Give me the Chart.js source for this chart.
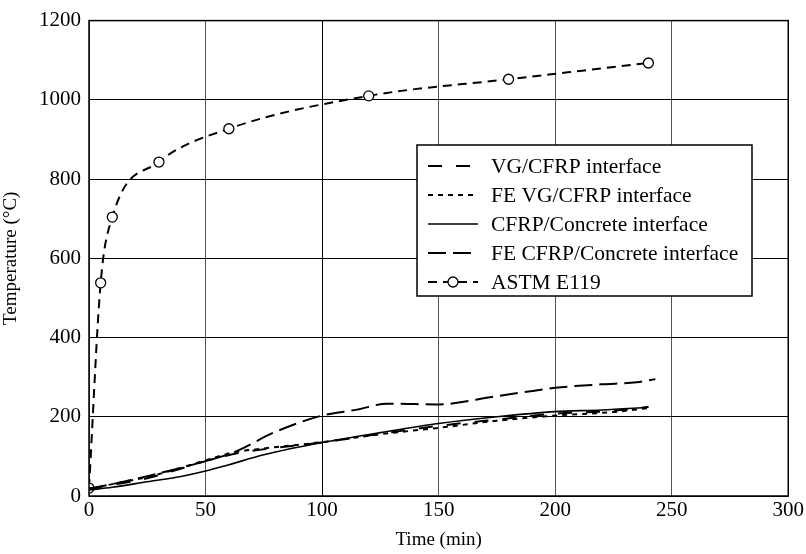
<!DOCTYPE html>
<html>
<head>
<meta charset="utf-8">
<script src="https://cdn.jsdelivr.net/npm/chart.js@4.4.1/dist/chart.umd.min.js"></script>
<style>
    html, body { margin: 0; padding: 0; background: #fff; }
</style>
</head>
<body>
<canvas id="tempChart" width="806" height="554"></canvas>
<script>
// Series data (time in min, temperature in °C)
const vgTime = [0, 10, 25, 40, 50, 62, 75, 100, 125, 150, 175, 200, 225, 240];
const vgTemp = [18, 28, 45, 70, 88, 106, 118, 135, 157, 177, 193, 208, 215, 225];

const feVgTime = [0, 10, 25, 40, 50, 62, 75, 100, 125, 150, 175, 200, 225, 240];
const feVgTemp = [18, 30, 48, 72, 90, 110, 120, 136, 156, 172, 190, 203, 212, 222];

const concTime = [0, 10, 25, 40, 50, 60, 75, 100, 125, 150, 175, 200, 220, 240];
const concTemp = [15, 22, 36, 50, 63, 79, 104, 135, 160, 183, 200, 213, 217, 224];

const feConcTime = [0, 10, 25, 40, 50, 62, 80, 100, 115, 128, 140, 149, 175, 200, 220, 235, 243];
const feConcTemp = [18, 30, 50, 72, 88, 110, 162, 203, 218, 233, 232, 231, 252, 273, 282, 287, 295];

const astmTime = [0, 5, 10, 30, 60, 120, 180, 240];
const astmTemp = [20, 538, 704, 843, 927, 1010, 1052, 1093];

const xTicks = [0, 50, 100, 150, 200, 250, 300];
const yTicks = [0, 200, 400, 600, 800, 1000, 1200];

const seriesLabels = [
    'VG/CFRP interface',
    'FE VG/CFRP interface',
    'CFRP/Concrete interface',
    'FE CFRP/Concrete interface',
    'ASTM E119'
];

Chart.defaults.font.family = '"Liberation Serif", "Times New Roman", serif';
Chart.defaults.color = '#000';

// Helper to pair up x and y arrays
function toPoints(xs, ys) {
    return xs.map((x, i) => ({ x: x, y: ys[i] }));
}

// Legend drawn inside the plot, boxed like the original
const boxLegend = {
    id: 'boxLegend',
    afterDatasetsDraw(chart) {
        const ctx = chart.ctx;
        const box = { left: 417, top: 145, right: 752, bottom: 296 };
        const rowY = [166, 195, 224, 253, 282];
        ctx.save();
        ctx.fillStyle = '#fff';
        ctx.fillRect(box.left, box.top, box.right - box.left, box.bottom - box.top);
        ctx.strokeStyle = '#000';
        ctx.lineWidth = 1.5;
        ctx.strokeRect(box.left, box.top, box.right - box.left, box.bottom - box.top);

        chart.data.datasets.forEach((ds, i) => {
            const y = rowY[i];
            ctx.beginPath();
            ctx.setLineDash(ds.borderDash || []);
            ctx.lineWidth = ds.borderWidth;
            ctx.strokeStyle = '#000';
            ctx.moveTo(428, y);
            ctx.lineTo(478, y);
            ctx.stroke();
            ctx.setLineDash([]);
            if (ds.pointRadius > 0) {
                ctx.beginPath();
                ctx.arc(453, y, 5, 0, Math.PI * 2);
                ctx.fillStyle = '#fff';
                ctx.fill();
                ctx.lineWidth = 1.3;
                ctx.stroke();
            }
            ctx.fillStyle = '#000';
            ctx.font = '21.5px "Liberation Serif", serif';
            ctx.textBaseline = 'middle';
            ctx.fillText(ds.label, 491, y + 1);
        });
        ctx.restore();
    },
    afterDraw(chart) {
        // black frame around the plot area
        const a = chart.chartArea;
        const ctx = chart.ctx;
        ctx.save();
        ctx.strokeStyle = '#000';
        ctx.lineWidth = 1.5;
        ctx.strokeRect(a.left, a.top, a.right - a.left, a.bottom - a.top);
        ctx.restore();
    }
};

const ctx = document.getElementById('tempChart').getContext('2d');
new Chart(ctx, {
    type: 'line',
    data: {
        datasets: [
            {
                label: seriesLabels[0],
                data: toPoints(vgTime, vgTemp),
                borderColor: '#000',
                borderWidth: 2,
                borderDash: [14, 14],
                pointRadius: 0,
                cubicInterpolationMode: 'monotone'
            },
            {
                label: seriesLabels[1],
                data: toPoints(feVgTime, feVgTemp),
                borderColor: '#000',
                borderWidth: 2,
                borderDash: [5, 5],
                pointRadius: 0,
                cubicInterpolationMode: 'monotone'
            },
            {
                label: seriesLabels[2],
                data: toPoints(concTime, concTemp),
                borderColor: '#000',
                borderWidth: 1.6,
                pointRadius: 0,
                cubicInterpolationMode: 'monotone'
            },
            {
                label: seriesLabels[3],
                data: toPoints(feConcTime, feConcTemp),
                borderColor: '#000',
                borderWidth: 2,
                borderDash: [18, 7],
                pointRadius: 0,
                cubicInterpolationMode: 'monotone'
            },
            {
                label: seriesLabels[4],
                data: toPoints(astmTime, astmTemp),
                borderColor: '#000',
                borderWidth: 2,
                borderDash: [9, 6],
                pointRadius: 5,
                pointBorderWidth: 1.3,
                pointBackgroundColor: '#fff',
                pointBorderColor: '#000',
                cubicInterpolationMode: 'monotone'
            }
        ]
    },
    options: {
        responsive: false,
        animation: false,
        layout: {
            padding: { top: 15, right: 17, left: 0, bottom: 0 }
        },
        plugins: {
            legend: { display: false },
            tooltip: { enabled: false }
        },
        scales: {
            x: {
                type: 'linear',
                min: 0,
                max: 300,
                afterBuildTicks: scale => { scale.ticks = xTicks.map(v => ({ value: v })); },
                afterFit: scale => { scale.height = 58; },
                grid: {
                    drawTicks: false,
                    color: c => (c.tick && c.tick.value === 100) ? '#000' : '#555',
                    lineWidth: 1
                },
                border: { display: false },
                ticks: { padding: 2, font: { size: 21 }, color: '#000', callback: v => String(v) },
                title: {
                    display: true,
                    text: 'Time (min)',
                    font: { size: 19 },
                    padding: { top: 0, bottom: 3 }
                }
            },
            y: {
                min: 0,
                max: 1200,
                afterBuildTicks: scale => { scale.ticks = yTicks.map(v => ({ value: v })); },
                afterFit: scale => { scale.width = 89; },
                grid: {
                    drawTicks: false,
                    color: '#000',
                    lineWidth: 1
                },
                border: { display: false },
                ticks: { padding: 8, font: { size: 21 }, color: '#000', callback: v => String(v) },
                title: {
                    display: true,
                    text: 'Temperature (°C)',
                    font: { size: 19 },
                    padding: { top: 0, bottom: 0 }
                }
            }
        }
    },
    plugins: [boxLegend]
});
</script>
</body>
</html>
